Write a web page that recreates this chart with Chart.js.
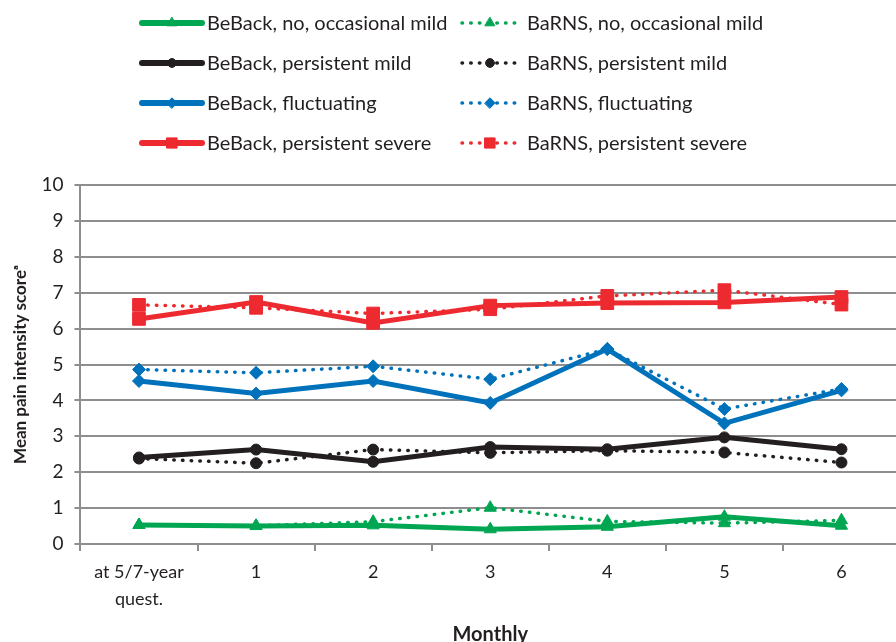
<!DOCTYPE html>
<html>
<head>
<meta charset="utf-8">
<script src="https://cdn.jsdelivr.net/npm/chart.js@4.4.1/dist/chart.umd.min.js"></script>
<style>
  body { margin: 0; background: #fff; overflow: hidden; }
</style>
</head>
<body>
<canvas id="painChart" width="910" height="647"></canvas>
<script>
// Data
const months = [['at 5/7-year', 'quest.'], '1', '2', '3', '4', '5', '6'];
const yTicks = [0, 10];

const bebackNoMild = [0.53, 0.50, 0.52, 0.41, 0.48, 0.76, 0.51];
const barnsNoMild = [0.53, 0.51, 0.62, 1.01, 0.63, 0.58, 0.66];
const bebackPersMild = [2.41, 2.63, 2.29, 2.70, 2.64, 2.97, 2.64];
const barnsPersMild = [2.38, 2.25, 2.63, 2.54, 2.60, 2.55, 2.27];
const bebackFluct = [4.54, 4.19, 4.54, 3.93, 5.43, 3.36, 4.28];
const barnsFluct = [4.86, 4.77, 4.95, 4.59, 5.43, 3.76, 4.32];
const bebackSevere = [6.27, 6.74, 6.16, 6.64, 6.71, 6.73, 6.88];
const barnsSevere = [6.66, 6.58, 6.42, 6.54, 6.91, 7.07, 6.67];

const GREEN = '#00a651';
const BLACK = '#231f20';
const BLUE = '#0072bc';
const RED = '#ed2a30';
const GRID = '#8e8e8e';
const FONT = 'Lato, "Open Sans", sans-serif';

function solid(label, data, color, style, radius) {
  return {
    label, data,
    borderColor: color, backgroundColor: color,
    borderWidth: 5, borderCapStyle: 'butt',
    pointStyle: style, pointRadius: radius, pointBorderWidth: 1,
    tension: 0
  };
}

function dotted(label, data, color, style, radius) {
  return {
    label, data,
    borderColor: color, backgroundColor: color,
    borderWidth: 3.5, borderDash: [0.5, 8.2], borderCapStyle: 'round',
    pointStyle: style, pointRadius: radius, pointBorderWidth: 1,
    tension: 0
  };
}

// two-column legend drawn above the plot
const gridLegend = {
  id: 'gridLegend',
  afterDraw(chart) {
    const ctx = chart.ctx;
    chart.data.datasets.forEach((ds, i) => {
      const col = i % 2;
      const row = Math.floor(i / 2);
      const x = 142 + col * 320;
      const y = 23 + row * 40;
      const len = col ? 56 : 60;
      ctx.save();
      ctx.strokeStyle = ds.borderColor;
      ctx.lineWidth = ds.borderDash ? ds.borderWidth : 6;
      ctx.lineCap = 'round';
      ctx.setLineDash(ds.borderDash || []);
      ctx.beginPath();
      ctx.moveTo(x, y);
      ctx.lineTo(x + len, y);
      ctx.stroke();
      ctx.setLineDash([]);
      ctx.fillStyle = ds.backgroundColor;
      ctx.lineWidth = 1;
      Chart.helpers.drawPoint(ctx, {
        pointStyle: ds.pointStyle, radius: ds.pointRadius * 0.8, rotation: 0, borderWidth: 1
      }, x + len / 2, y);
      ctx.fillStyle = BLACK;
      ctx.font = '20px ' + FONT;
      ctx.textBaseline = 'middle';
      ctx.fillText(ds.label, x + 65, y + 1);
      ctx.restore();
    });
  }
};

new Chart(document.getElementById('painChart'), {
  type: 'line',
  data: {
    labels: months,
    datasets: [
      solid('BeBack, no, occasional mild', bebackNoMild, GREEN, 'triangle', 7),
      dotted('BaRNS, no, occasional mild', barnsNoMild, GREEN, 'triangle', 7),
      solid('BeBack, persistent mild', bebackPersMild, BLACK, 'circle', 5.5),
      dotted('BaRNS, persistent mild', barnsPersMild, BLACK, 'circle', 5.5),
      solid('BeBack, fluctuating', bebackFluct, BLUE, 'rectRot', 6.5),
      dotted('BaRNS, fluctuating', barnsFluct, BLUE, 'rectRot', 6.5),
      solid('BeBack, persistent severe', bebackSevere, RED, 'rect', 9),
      dotted('BaRNS, persistent severe', barnsSevere, RED, 'rect', 9)
    ]
  },
  options: {
    responsive: false,
    animation: false,
    layout: { padding: { top: 185, right: 4, left: 10, bottom: 0 } },
    plugins: {
      legend: { display: false },
      tooltip: { enabled: false }
    },
    scales: {
      x: {
        offset: true,
        grid: { offset: true, drawOnChartArea: false, drawTicks: true, tickLength: 7, color: GRID, lineWidth: 2 },
        border: { color: GRID, width: 2 },
        ticks: { color: BLACK, font: { family: FONT, size: 18, lineHeight: 1.5 }, padding: 8, maxRotation: 0 },
        title: { display: true, text: 'Monthly', color: BLACK, font: { family: FONT, size: 20, weight: 'bold' }, padding: { top: 2, bottom: 0 } }
      },
      y: {
        min: yTicks[0], max: yTicks[1],
        grid: { color: GRID, lineWidth: 2, tickLength: 6 },
        border: { color: GRID, width: 2 },
        ticks: { stepSize: 1, color: BLACK, font: { family: FONT, size: 19 }, padding: 11 },
        title: { display: true, text: 'Mean pain intensity scoreᵃ', color: BLACK, font: { family: FONT, size: 17, weight: 'bold' }, padding: { top: 0, bottom: 0 } }
      }
    }
  },
  plugins: [gridLegend]
});
</script>
</body>
</html>
